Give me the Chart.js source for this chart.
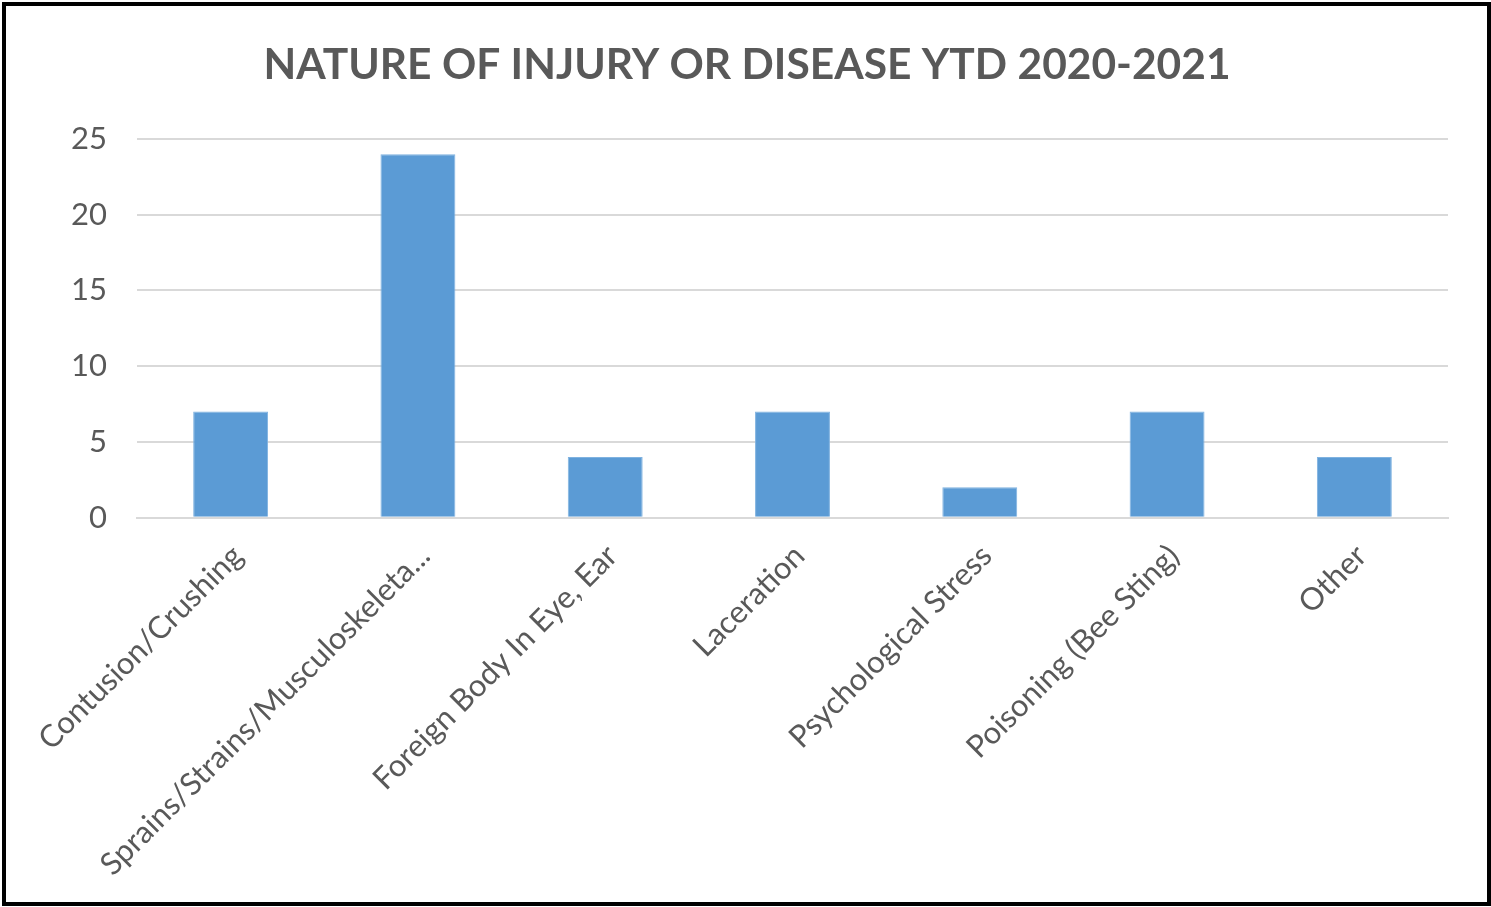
<!DOCTYPE html>
<html>
<head>
<meta charset="utf-8">
<script src="https://cdn.jsdelivr.net/npm/chart.js@4.4.1/dist/chart.umd.min.js"></script>
<style>
    html, body { margin: 0; padding: 0; background: #ffffff; }
    #frame {
        position: absolute;
        left: 2px; top: 2px;
        width: 1481px; height: 896px;
        border: 4px solid #000000;
        background: #ffffff;
    }
    #chartBox { position: absolute; left: 0; top: 0; width: 1481px; height: 896px; }
</style>
</head>
<body>
<div id="frame">
    <div id="chartBox"><canvas id="injuryChart"></canvas></div>
</div>
<script>
// Chart data
const categories = [
    "Contusion/Crushing",
    "Sprains/Strains/Musculoskeleta...",
    "Foreign Body In Eye, Ear",
    "Laceration",
    "Psychological Stress",
    "Poisoning (Bee Sting)",
    "Other"
];
const injuryCounts = [7, 24, 4, 7, 2, 7, 4];
const yTicks = [0, 5, 10, 15, 20, 25];

const chartTitle = "NATURE OF INJURY OR DISEASE YTD 2020-2021";

document.addEventListener("DOMContentLoaded", () => {
    const ctx = document.getElementById("injuryChart").getContext("2d");

    new Chart(ctx, {
        type: "bar",
        data: {
            labels: categories,
            datasets: [
                {
                    label: "Count",
                    data: injuryCounts,
                    backgroundColor: "#5b9bd5",
                    borderColor: "#7fb2e0",
                    borderWidth: 1,
                    barPercentage: 0.4,
                    categoryPercentage: 1.0,
                },
            ],
        },
        options: {
            responsive: true,
            maintainAspectRatio: false,
            animation: false,
            layout: {
                padding: { left: 40, right: 39, top: 20, bottom: 0 },
            },
            plugins: {
                legend: { display: false },
                tooltip: { enabled: false },
                title: {
                    display: true,
                    text: chartTitle,
                    color: "#595959",
                    font: { family: "Lato", size: 42.5, weight: "bold" },
                    padding: { top: 14, bottom: 48 },
                },
            },
            scales: {
                x: {
                    grid: { display: false, drawTicks: false },
                    border: { display: true, color: "#d9d9d9", width: 2 },
                    ticks: {
                        color: "#595959",
                        font: { family: "Lato", size: 31 },
                        minRotation: 45,
                        maxRotation: 45,
                        autoSkip: false,
                        padding: 20,
                        labelOffset: 7,
                    },
                    // rotated labels are measured a bit too tall; let them hang lower
                    afterFit: (axis) => {
                        axis.height -= 1;
                        axis.paddingLeft = 0;
                    },
                },
                y: {
                    min: 0,
                    max: 25,
                    afterBuildTicks: (axis) => {
                        axis.ticks = yTicks.map(v => ({ value: v }));
                    },
                    afterFit: (axis) => {
                        axis.width = 91;
                    },
                    grid: { color: "#d9d9d9", lineWidth: 2, drawTicks: false },
                    border: { display: false },
                    ticks: {
                        color: "#595959",
                        font: { family: "Lato", size: 31 },
                        padding: 30,
                    },
                },
            },
        },
    });
});
</script>
</body>
</html>
